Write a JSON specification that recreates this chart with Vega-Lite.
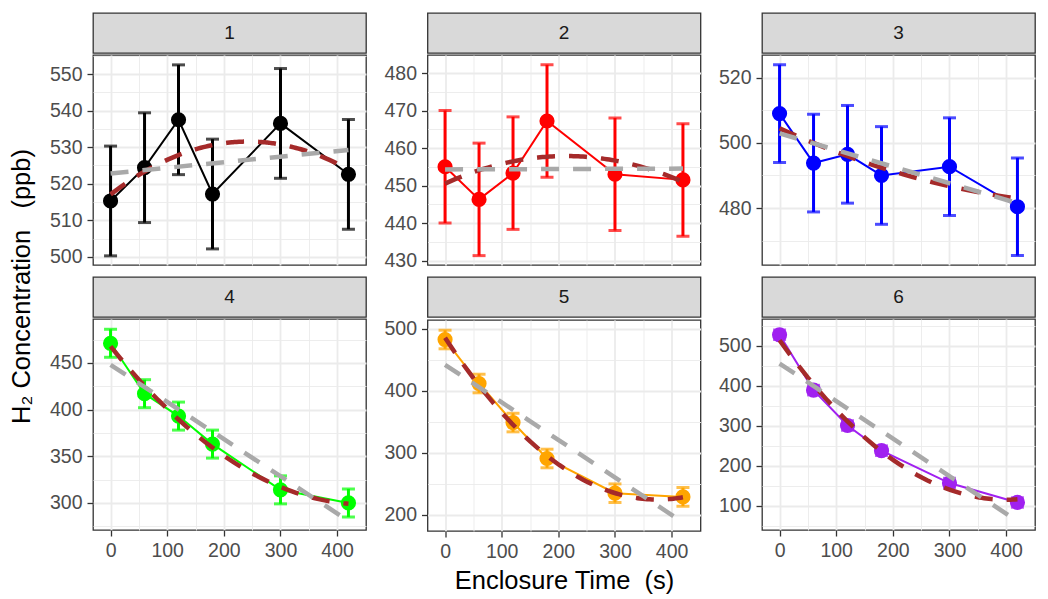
{
  "$schema": "https://vega.github.io/schema/vega-lite/v6.json",
  "padding": {"left": 10, "top": 12, "right": 5, "bottom": 5},
  "background": "white",
  "title": {"text": "H₂ Concentration \u00a0\u00a0(ppb)", "orient": "left", "anchor": "middle", "frame": "bounds", "fontSize": 25.5, "fontWeight": "normal", "font": "Liberation Sans", "color": "#000000", "offset": 13, "dx": 17},
  "config": {
    "font": "Liberation Sans",
    "view": {"stroke": "#333333", "strokeWidth": 1.3},
    "axis": {"labelFontSize": 19.5, "labelColor": "#4D4D4D", "labelFont": "Liberation Sans", "tickColor": "#333333", "tickSize": 6, "tickWidth": 1.3, "labelPadding": 5, "domain": false, "gridColor": "#EBEBEB", "gridWidth": 1.8, "titleFontSize": 25.5, "titleFontWeight": "normal", "titleColor": "#000000", "titleFont": "Liberation Sans", "titlePadding": 8}
  },
  "datasets": {
    "obs": [
      {"panel": 1, "t": 0, "conc": 515.3, "lo": 500.3, "hi": 530.3},
      {"panel": 1, "t": 60, "conc": 524.4, "lo": 509.4, "hi": 539.4},
      {"panel": 1, "t": 120, "conc": 537.5, "lo": 522.5, "hi": 552.5},
      {"panel": 1, "t": 180, "conc": 517.2, "lo": 502.2, "hi": 532.2},
      {"panel": 1, "t": 300, "conc": 536.5, "lo": 521.5, "hi": 551.5},
      {"panel": 1, "t": 420, "conc": 522.6, "lo": 507.6, "hi": 537.6},
      {"panel": 2, "t": 0, "conc": 455.0, "lo": 440.0, "hi": 470.0},
      {"panel": 2, "t": 60, "conc": 446.3, "lo": 431.3, "hi": 461.3},
      {"panel": 2, "t": 120, "conc": 453.3, "lo": 438.3, "hi": 468.3},
      {"panel": 2, "t": 180, "conc": 467.2, "lo": 452.2, "hi": 482.2},
      {"panel": 2, "t": 300, "conc": 453.0, "lo": 438.0, "hi": 468.0},
      {"panel": 2, "t": 420, "conc": 451.5, "lo": 436.5, "hi": 466.5},
      {"panel": 3, "t": 0, "conc": 509.0, "lo": 494.0, "hi": 524.0},
      {"panel": 3, "t": 60, "conc": 493.8, "lo": 478.8, "hi": 508.8},
      {"panel": 3, "t": 120, "conc": 496.5, "lo": 481.5, "hi": 511.5},
      {"panel": 3, "t": 180, "conc": 490.0, "lo": 475.0, "hi": 505.0},
      {"panel": 3, "t": 300, "conc": 492.7, "lo": 477.7, "hi": 507.7},
      {"panel": 3, "t": 420, "conc": 480.4, "lo": 465.4, "hi": 495.4},
      {"panel": 4, "t": 0, "conc": 471, "lo": 456, "hi": 486},
      {"panel": 4, "t": 60, "conc": 417, "lo": 402, "hi": 432},
      {"panel": 4, "t": 120, "conc": 393, "lo": 378, "hi": 408},
      {"panel": 4, "t": 180, "conc": 363, "lo": 348, "hi": 378},
      {"panel": 4, "t": 300, "conc": 314, "lo": 299, "hi": 329},
      {"panel": 4, "t": 420, "conc": 300, "lo": 285, "hi": 315},
      {"panel": 5, "t": 0, "conc": 483, "lo": 468, "hi": 498},
      {"panel": 5, "t": 60, "conc": 412, "lo": 397, "hi": 427},
      {"panel": 5, "t": 120, "conc": 349, "lo": 334, "hi": 364},
      {"panel": 5, "t": 180, "conc": 291, "lo": 276, "hi": 306},
      {"panel": 5, "t": 300, "conc": 235, "lo": 220, "hi": 250},
      {"panel": 5, "t": 420, "conc": 229, "lo": 214, "hi": 244},
      {"panel": 6, "t": 0, "conc": 527.5, "lo": 515.5, "hi": 539.5},
      {"panel": 6, "t": 60, "conc": 389, "lo": 377, "hi": 401},
      {"panel": 6, "t": 120, "conc": 300.5, "lo": 288.5, "hi": 312.5},
      {"panel": 6, "t": 180, "conc": 237.5, "lo": 225.5, "hi": 249.5},
      {"panel": 6, "t": 300, "conc": 156.5, "lo": 144.5, "hi": 168.5},
      {"panel": 6, "t": 420, "conc": 108, "lo": 96, "hi": 120}
    ]
  },
  "spacing": 5,
  "vconcat": [
    {
      "spacing": 15.5,
      "hconcat": [
        {"spacing": 0, "vconcat": [
          {"width": 273, "height": 40, "view": {"fill": "#D9D9D9", "stroke": "#333333", "strokeWidth": 1.3}, "data": {"values": [{"label": "1"}]}, "mark": {"type": "text", "fontSize": 19, "color": "#1A1A1A"}, "encoding": {"text": {"field": "label"}}},
          {"width": 273, "height": 210, "data": {"name": "obs"}, "transform": [{"filter": "datum.panel == 1"}],
           "resolve": {"axis": {"x": "independent", "y": "independent"}},
           "layer": [
            {"mark": {"type": "rule", "strokeWidth": 3, "color": "#000000"},
             "encoding": {"x": {"field": "t", "type": "quantitative", "scale": {"domain": [-31, 451], "nice": false, "zero": false}, "axis": {"orient": "top", "values": [50, 150, 250, 350], "grid": true, "gridWidth": 0.9, "labels": false, "ticks": false, "title": null}},
                          "y": {"field": "lo", "type": "quantitative", "scale": {"domain": [497.8, 555.2], "nice": false, "zero": false}, "axis": {"orient": "right", "values": [505, 515, 525, 535, 545, 555], "grid": true, "gridWidth": 0.9, "labels": false, "ticks": false, "title": null}},
                          "y2": {"field": "hi"}}},
            {"mark": {"type": "tick", "orient": "horizontal", "size": 13, "thickness": 3, "color": "#000000"}, "encoding": {"x": {"field": "t", "type": "quantitative", "axis": null}, "y": {"field": "lo", "type": "quantitative", "axis": null}}},
            {"mark": {"type": "tick", "orient": "horizontal", "size": 13, "thickness": 3, "color": "#000000"}, "encoding": {"x": {"field": "t", "type": "quantitative", "axis": null}, "y": {"field": "hi", "type": "quantitative", "axis": null}}},
            {"mark": {"type": "line", "strokeWidth": 2, "color": "#000000"},
             "encoding": {"x": {"field": "t", "type": "quantitative", "axis": {"values": [0, 100, 200, 300, 400], "grid": true, "labels": false, "ticks": false, "title": null}},
                          "y": {"field": "conc", "type": "quantitative", "axis": {"values": [500, 510, 520, 530, 540, 550], "grid": true, "title": null}}}},
            {"mark": {"type": "point", "filled": true, "opacity": 1, "size": 230, "color": "#000000"}, "encoding": {"x": {"field": "t", "type": "quantitative", "axis": null}, "y": {"field": "conc", "type": "quantitative", "axis": null}}},
            {"transform": [{"regression": "conc", "on": "t", "method": "poly", "order": 2, "extent": [0, 420]}], "mark": {"type": "line", "color": "#A52A2A", "strokeWidth": 4.5, "strokeDash": [18, 14]}, "encoding": {"x": {"field": "t", "type": "quantitative", "axis": null}, "y": {"field": "conc", "type": "quantitative", "axis": null}}},
            {"transform": [{"regression": "conc", "on": "t", "method": "linear", "extent": [0, 420]}], "mark": {"type": "line", "color": "#A9A9A9", "strokeWidth": 4.5, "strokeDash": [18, 14]}, "encoding": {"x": {"field": "t", "type": "quantitative", "axis": null}, "y": {"field": "conc", "type": "quantitative", "axis": null}}}
           ]}
        ]},
        {"spacing": 0, "vconcat": [
          {"width": 273, "height": 40, "view": {"fill": "#D9D9D9", "stroke": "#333333", "strokeWidth": 1.3}, "data": {"values": [{"label": "2"}]}, "mark": {"type": "text", "fontSize": 19, "color": "#1A1A1A"}, "encoding": {"text": {"field": "label"}}},
          {"width": 273, "height": 210, "data": {"name": "obs"}, "transform": [{"filter": "datum.panel == 2"}],
           "resolve": {"axis": {"x": "independent", "y": "independent"}},
           "layer": [
            {"mark": {"type": "rule", "strokeWidth": 3, "color": "#FF0000"},
             "encoding": {"x": {"field": "t", "type": "quantitative", "scale": {"domain": [-31, 451], "nice": false, "zero": false}, "axis": {"orient": "top", "values": [50, 150, 250, 350], "grid": true, "gridWidth": 0.9, "labels": false, "ticks": false, "title": null}},
                          "y": {"field": "lo", "type": "quantitative", "scale": {"domain": [428.8, 484.8], "nice": false, "zero": false}, "axis": {"orient": "right", "values": [435, 445, 455, 465, 475], "grid": true, "gridWidth": 0.9, "labels": false, "ticks": false, "title": null}},
                          "y2": {"field": "hi"}}},
            {"mark": {"type": "tick", "orient": "horizontal", "size": 13, "thickness": 3, "color": "#FF0000"}, "encoding": {"x": {"field": "t", "type": "quantitative", "axis": null}, "y": {"field": "lo", "type": "quantitative", "axis": null}}},
            {"mark": {"type": "tick", "orient": "horizontal", "size": 13, "thickness": 3, "color": "#FF0000"}, "encoding": {"x": {"field": "t", "type": "quantitative", "axis": null}, "y": {"field": "hi", "type": "quantitative", "axis": null}}},
            {"mark": {"type": "line", "strokeWidth": 2, "color": "#FF0000"},
             "encoding": {"x": {"field": "t", "type": "quantitative", "axis": {"values": [0, 100, 200, 300, 400], "grid": true, "labels": false, "ticks": false, "title": null}},
                          "y": {"field": "conc", "type": "quantitative", "axis": {"values": [430, 440, 450, 460, 470, 480], "grid": true, "title": null}}}},
            {"mark": {"type": "point", "filled": true, "opacity": 1, "size": 230, "color": "#FF0000"}, "encoding": {"x": {"field": "t", "type": "quantitative", "axis": null}, "y": {"field": "conc", "type": "quantitative", "axis": null}}},
            {"transform": [{"regression": "conc", "on": "t", "method": "poly", "order": 2, "extent": [0, 420]}], "mark": {"type": "line", "color": "#A52A2A", "strokeWidth": 4.5, "strokeDash": [18, 14]}, "encoding": {"x": {"field": "t", "type": "quantitative", "axis": null}, "y": {"field": "conc", "type": "quantitative", "axis": null}}},
            {"transform": [{"regression": "conc", "on": "t", "method": "linear", "extent": [0, 420]}], "mark": {"type": "line", "color": "#A9A9A9", "strokeWidth": 4.5, "strokeDash": [18, 14]}, "encoding": {"x": {"field": "t", "type": "quantitative", "axis": null}, "y": {"field": "conc", "type": "quantitative", "axis": null}}}
           ]}
        ]},
        {"spacing": 0, "vconcat": [
          {"width": 273, "height": 40, "view": {"fill": "#D9D9D9", "stroke": "#333333", "strokeWidth": 1.3}, "data": {"values": [{"label": "3"}]}, "mark": {"type": "text", "fontSize": 19, "color": "#1A1A1A"}, "encoding": {"text": {"field": "label"}}},
          {"width": 273, "height": 210, "data": {"name": "obs"}, "transform": [{"filter": "datum.panel == 3"}],
           "resolve": {"axis": {"x": "independent", "y": "independent"}},
           "layer": [
            {"mark": {"type": "rule", "strokeWidth": 3, "color": "#0000FF"},
             "encoding": {"x": {"field": "t", "type": "quantitative", "scale": {"domain": [-31, 451], "nice": false, "zero": false}, "axis": {"orient": "top", "values": [50, 150, 250, 350], "grid": true, "gridWidth": 0.9, "labels": false, "ticks": false, "title": null}},
                          "y": {"field": "lo", "type": "quantitative", "scale": {"domain": [462.5, 527], "nice": false, "zero": false}, "axis": {"orient": "right", "values": [470, 490, 510], "grid": true, "gridWidth": 0.9, "labels": false, "ticks": false, "title": null}},
                          "y2": {"field": "hi"}}},
            {"mark": {"type": "tick", "orient": "horizontal", "size": 13, "thickness": 3, "color": "#0000FF"}, "encoding": {"x": {"field": "t", "type": "quantitative", "axis": null}, "y": {"field": "lo", "type": "quantitative", "axis": null}}},
            {"mark": {"type": "tick", "orient": "horizontal", "size": 13, "thickness": 3, "color": "#0000FF"}, "encoding": {"x": {"field": "t", "type": "quantitative", "axis": null}, "y": {"field": "hi", "type": "quantitative", "axis": null}}},
            {"mark": {"type": "line", "strokeWidth": 2, "color": "#0000FF"},
             "encoding": {"x": {"field": "t", "type": "quantitative", "axis": {"values": [0, 100, 200, 300, 400], "grid": true, "labels": false, "ticks": false, "title": null}},
                          "y": {"field": "conc", "type": "quantitative", "axis": {"values": [480, 500, 520], "grid": true, "title": null}}}},
            {"mark": {"type": "point", "filled": true, "opacity": 1, "size": 230, "color": "#0000FF"}, "encoding": {"x": {"field": "t", "type": "quantitative", "axis": null}, "y": {"field": "conc", "type": "quantitative", "axis": null}}},
            {"transform": [{"regression": "conc", "on": "t", "method": "poly", "order": 2, "extent": [0, 420]}], "mark": {"type": "line", "color": "#A52A2A", "strokeWidth": 4.5, "strokeDash": [18, 14]}, "encoding": {"x": {"field": "t", "type": "quantitative", "axis": null}, "y": {"field": "conc", "type": "quantitative", "axis": null}}},
            {"transform": [{"regression": "conc", "on": "t", "method": "linear", "extent": [0, 420]}], "mark": {"type": "line", "color": "#A9A9A9", "strokeWidth": 4.5, "strokeDash": [18, 14]}, "encoding": {"x": {"field": "t", "type": "quantitative", "axis": null}, "y": {"field": "conc", "type": "quantitative", "axis": null}}}
           ]}
        ]}
      ]
    },
    {
      "spacing": 15.5,
      "hconcat": [
        {"spacing": 0, "vconcat": [
          {"width": 273, "height": 40, "view": {"fill": "#D9D9D9", "stroke": "#333333", "strokeWidth": 1.3}, "data": {"values": [{"label": "4"}]}, "mark": {"type": "text", "fontSize": 19, "color": "#1A1A1A"}, "encoding": {"text": {"field": "label"}}},
          {"width": 273, "height": 211, "data": {"name": "obs"}, "transform": [{"filter": "datum.panel == 4"}],
           "resolve": {"axis": {"x": "independent", "y": "independent"}},
           "layer": [
            {"mark": {"type": "rule", "strokeWidth": 3, "color": "#00FF00"},
             "encoding": {"x": {"field": "t", "type": "quantitative", "scale": {"domain": [-31, 451], "nice": false, "zero": false}, "axis": {"orient": "top", "values": [50, 150, 250, 350], "grid": true, "gridWidth": 0.9, "labels": false, "ticks": false, "title": null}},
                          "y": {"field": "lo", "type": "quantitative", "scale": {"domain": [271, 497], "nice": false, "zero": false}, "axis": {"orient": "right", "values": [275, 325, 375, 425, 475], "grid": true, "gridWidth": 0.9, "labels": false, "ticks": false, "title": null}},
                          "y2": {"field": "hi"}}},
            {"mark": {"type": "tick", "orient": "horizontal", "size": 13, "thickness": 3, "color": "#00FF00"}, "encoding": {"x": {"field": "t", "type": "quantitative", "axis": null}, "y": {"field": "lo", "type": "quantitative", "axis": null}}},
            {"mark": {"type": "tick", "orient": "horizontal", "size": 13, "thickness": 3, "color": "#00FF00"}, "encoding": {"x": {"field": "t", "type": "quantitative", "axis": null}, "y": {"field": "hi", "type": "quantitative", "axis": null}}},
            {"mark": {"type": "line", "strokeWidth": 2, "color": "#00FF00"},
             "encoding": {"x": {"field": "t", "type": "quantitative", "axis": {"values": [0, 100, 200, 300, 400], "grid": true, "title": null}},
                          "y": {"field": "conc", "type": "quantitative", "axis": {"values": [300, 350, 400, 450], "grid": true, "title": null}}}},
            {"mark": {"type": "point", "filled": true, "opacity": 1, "size": 230, "color": "#00FF00"}, "encoding": {"x": {"field": "t", "type": "quantitative", "axis": null}, "y": {"field": "conc", "type": "quantitative", "axis": null}}},
            {"transform": [{"regression": "conc", "on": "t", "method": "poly", "order": 2, "extent": [0, 420]}], "mark": {"type": "line", "color": "#A52A2A", "strokeWidth": 4.5, "strokeDash": [18, 14]}, "encoding": {"x": {"field": "t", "type": "quantitative", "axis": null}, "y": {"field": "conc", "type": "quantitative", "axis": null}}},
            {"transform": [{"regression": "conc", "on": "t", "method": "linear", "extent": [0, 420]}], "mark": {"type": "line", "color": "#A9A9A9", "strokeWidth": 4.5, "strokeDash": [18, 14]}, "encoding": {"x": {"field": "t", "type": "quantitative", "axis": null}, "y": {"field": "conc", "type": "quantitative", "axis": null}}}
           ]}
        ]},
        {"spacing": 0, "vconcat": [
          {"width": 273, "height": 40, "view": {"fill": "#D9D9D9", "stroke": "#333333", "strokeWidth": 1.3}, "data": {"values": [{"label": "5"}]}, "mark": {"type": "text", "fontSize": 19, "color": "#1A1A1A"}, "encoding": {"text": {"field": "label"}}},
          {"width": 273, "height": 211, "data": {"name": "obs"}, "transform": [{"filter": "datum.panel == 5"}],
           "resolve": {"axis": {"x": "independent", "y": "independent"}},
           "layer": [
            {"mark": {"type": "rule", "strokeWidth": 3, "color": "#FFA500"},
             "encoding": {"x": {"field": "t", "type": "quantitative", "scale": {"domain": [-31, 451], "nice": false, "zero": false}, "axis": {"orient": "top", "values": [50, 150, 250, 350], "grid": true, "gridWidth": 0.9, "labels": false, "ticks": false, "title": null}},
                          "y": {"field": "lo", "type": "quantitative", "scale": {"domain": [174, 514.5], "nice": false, "zero": false}, "axis": {"orient": "right", "values": [250, 350, 450], "grid": true, "gridWidth": 0.9, "labels": false, "ticks": false, "title": null}},
                          "y2": {"field": "hi"}}},
            {"mark": {"type": "tick", "orient": "horizontal", "size": 13, "thickness": 3, "color": "#FFA500"}, "encoding": {"x": {"field": "t", "type": "quantitative", "axis": null}, "y": {"field": "lo", "type": "quantitative", "axis": null}}},
            {"mark": {"type": "tick", "orient": "horizontal", "size": 13, "thickness": 3, "color": "#FFA500"}, "encoding": {"x": {"field": "t", "type": "quantitative", "axis": null}, "y": {"field": "hi", "type": "quantitative", "axis": null}}},
            {"mark": {"type": "line", "strokeWidth": 2, "color": "#FFA500"},
             "encoding": {"x": {"field": "t", "type": "quantitative", "axis": {"values": [0, 100, 200, 300, 400], "grid": true, "title": "Enclosure Time \u00a0(s)"}},
                          "y": {"field": "conc", "type": "quantitative", "axis": {"values": [200, 300, 400, 500], "grid": true, "title": null}}}},
            {"mark": {"type": "point", "filled": true, "opacity": 1, "size": 230, "color": "#FFA500"}, "encoding": {"x": {"field": "t", "type": "quantitative", "axis": null}, "y": {"field": "conc", "type": "quantitative", "axis": null}}},
            {"transform": [{"regression": "conc", "on": "t", "method": "poly", "order": 2, "extent": [0, 420]}], "mark": {"type": "line", "color": "#A52A2A", "strokeWidth": 4.5, "strokeDash": [18, 14]}, "encoding": {"x": {"field": "t", "type": "quantitative", "axis": null}, "y": {"field": "conc", "type": "quantitative", "axis": null}}},
            {"transform": [{"regression": "conc", "on": "t", "method": "linear", "extent": [0, 420]}], "mark": {"type": "line", "color": "#A9A9A9", "strokeWidth": 4.5, "strokeDash": [18, 14]}, "encoding": {"x": {"field": "t", "type": "quantitative", "axis": null}, "y": {"field": "conc", "type": "quantitative", "axis": null}}}
           ]}
        ]},
        {"spacing": 0, "vconcat": [
          {"width": 273, "height": 40, "view": {"fill": "#D9D9D9", "stroke": "#333333", "strokeWidth": 1.3}, "data": {"values": [{"label": "6"}]}, "mark": {"type": "text", "fontSize": 19, "color": "#1A1A1A"}, "encoding": {"text": {"field": "label"}}},
          {"width": 273, "height": 211, "data": {"name": "obs"}, "transform": [{"filter": "datum.panel == 6"}],
           "resolve": {"axis": {"x": "independent", "y": "independent"}},
           "layer": [
            {"mark": {"type": "rule", "strokeWidth": 3, "color": "#A020F0"},
             "encoding": {"x": {"field": "t", "type": "quantitative", "scale": {"domain": [-31, 451], "nice": false, "zero": false}, "axis": {"orient": "top", "values": [50, 150, 250, 350], "grid": true, "gridWidth": 0.9, "labels": false, "ticks": false, "title": null}},
                          "y": {"field": "lo", "type": "quantitative", "scale": {"domain": [39, 567], "nice": false, "zero": false}, "axis": {"orient": "right", "values": [50, 150, 250, 350, 450, 550], "grid": true, "gridWidth": 0.9, "labels": false, "ticks": false, "title": null}},
                          "y2": {"field": "hi"}}},
            {"mark": {"type": "tick", "orient": "horizontal", "size": 13, "thickness": 3, "color": "#A020F0"}, "encoding": {"x": {"field": "t", "type": "quantitative", "axis": null}, "y": {"field": "lo", "type": "quantitative", "axis": null}}},
            {"mark": {"type": "tick", "orient": "horizontal", "size": 13, "thickness": 3, "color": "#A020F0"}, "encoding": {"x": {"field": "t", "type": "quantitative", "axis": null}, "y": {"field": "hi", "type": "quantitative", "axis": null}}},
            {"mark": {"type": "line", "strokeWidth": 2, "color": "#A020F0"},
             "encoding": {"x": {"field": "t", "type": "quantitative", "axis": {"values": [0, 100, 200, 300, 400], "grid": true, "title": null}},
                          "y": {"field": "conc", "type": "quantitative", "axis": {"values": [100, 200, 300, 400, 500], "grid": true, "title": null}}}},
            {"mark": {"type": "point", "filled": true, "opacity": 1, "size": 230, "color": "#A020F0"}, "encoding": {"x": {"field": "t", "type": "quantitative", "axis": null}, "y": {"field": "conc", "type": "quantitative", "axis": null}}},
            {"transform": [{"regression": "conc", "on": "t", "method": "poly", "order": 2, "extent": [0, 420]}], "mark": {"type": "line", "color": "#A52A2A", "strokeWidth": 4.5, "strokeDash": [18, 14]}, "encoding": {"x": {"field": "t", "type": "quantitative", "axis": null}, "y": {"field": "conc", "type": "quantitative", "axis": null}}},
            {"transform": [{"regression": "conc", "on": "t", "method": "linear", "extent": [0, 420]}], "mark": {"type": "line", "color": "#A9A9A9", "strokeWidth": 4.5, "strokeDash": [18, 14]}, "encoding": {"x": {"field": "t", "type": "quantitative", "axis": null}, "y": {"field": "conc", "type": "quantitative", "axis": null}}}
           ]}
        ]}
      ]
    }
  ]
}
